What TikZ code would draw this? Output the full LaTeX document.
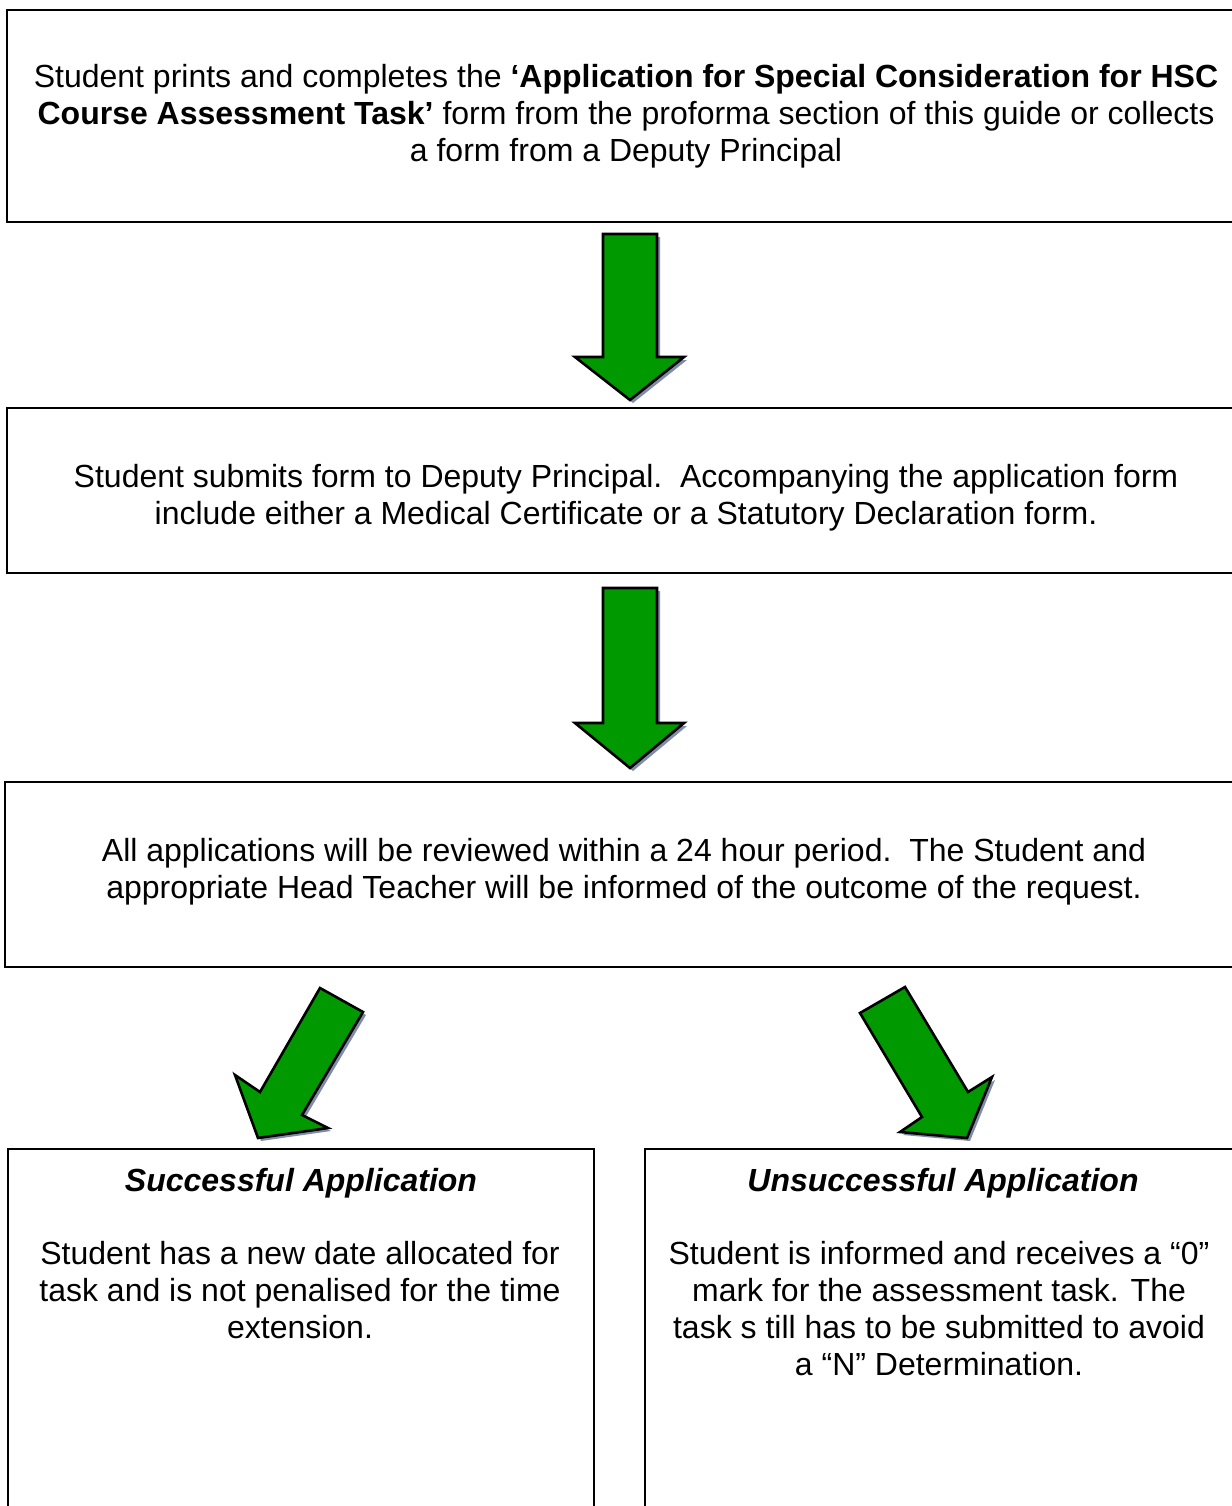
\documentclass[tikz,border=0pt]{standalone}
\usepackage{fontspec}
\setmainfont{Liberation Sans}
\definecolor{arrowgreen}{RGB}{0,153,0}
\definecolor{shadowgray}{RGB}{128,140,168}
\begin{document}
\begin{tikzpicture}[x=0.5pt,y=-0.5pt,
  boxstyle/.style={draw=black,line width=1pt,fill=none},
  txt/.style={align=center,inner sep=0pt,font=\fontsize{16}{18.5}\selectfont},
  garrow/.style={fill=arrowgreen,draw=black,line width=1.3pt,line join=miter},
  gshadow/.style={fill=shadowgray,draw=none}]
\useasboundingbox (0,0) rectangle (1232,1506);
\clip (0,0) rectangle (1232,1506);
\fill[white] (0,0) rectangle (1232,1506);
% boxes
\draw[boxstyle] (7,10) rectangle (1245,222);
\draw[boxstyle] (7,408) rectangle (1245,573);
\draw[boxstyle] (5,782) rectangle (1245,967);
\draw[boxstyle] (8,1149) rectangle (594,1530);
\draw[boxstyle] (645,1149) rectangle (1241,1530);
% texts
\node[txt] (t1) at (626,116) {Student prints and completes the \textbf{‘Application for Special Consideration for HSC}\\\textbf{Course Assessment Task’} form from the proforma section of this guide or collects\\a form from a Deputy Principal};
\node[txt] (t2) at (626,498) {Student submits form to Deputy Principal.\ \ Accompanying the application form\\include either a Medical Certificate or a Statutory Declaration form.};
\node[txt] (t3) at (624,872) {All applications will be reviewed within a 24 hour period.\ \ The Student and\\appropriate Head Teacher will be informed of the outcome of the request.};
\node[txt] (t4h) at (301,1183) {\textbf{\textit{Successful Application}}};
\node[txt] (t4) at (300,1290) {Student has a new date allocated for\\task and is not penalised for the time\\extension.};
\node[txt] (t5h) at (943,1183) {\textbf{\textit{Unsuccessful Application}}};
\node[txt] (t5) at (939,1308.5) {Student is informed and receives a “0”\\mark for the assessment task. The\\task s till has to be submitted to avoid\\a “N” Determination.};
% arrow 1
\fill[gshadow,shift={(3,3)}] (603,234) -- (657,234) -- (657,357) -- (684,357) -- (630,400) -- (575,357) -- (603,357) -- cycle;
\draw[garrow] (603,234) -- (657,234) -- (657,357) -- (684,357) -- (630,400) -- (575,357) -- (603,357) -- cycle;
% arrow 2
\fill[gshadow,shift={(3,3)}] (603,588) -- (657,588) -- (657,723) -- (684,723) -- (630,768) -- (575,723) -- (603,723) -- cycle;
\draw[garrow] (603,588) -- (657,588) -- (657,723) -- (684,723) -- (630,768) -- (575,723) -- (603,723) -- cycle;
% arrow left diagonal
\fill[gshadow,shift={(3,3)}] (320,988) -- (363,1012) -- (302,1115) -- (328,1128) -- (258,1138) -- (235,1075) -- (260,1092) -- cycle;
\draw[garrow] (320,988) -- (363,1012) -- (302,1115) -- (328,1128) -- (258,1138) -- (235,1075) -- (260,1092) -- cycle;
% arrow right diagonal
\fill[gshadow,shift={(3,3)}] (860,1013) -- (905,987) -- (968,1092) -- (992,1077) -- (967,1138) -- (900,1132) -- (922,1117) -- cycle;
\draw[garrow] (860,1013) -- (905,987) -- (968,1092) -- (992,1077) -- (967,1138) -- (900,1132) -- (922,1117) -- cycle;
\end{tikzpicture}
\end{document}
